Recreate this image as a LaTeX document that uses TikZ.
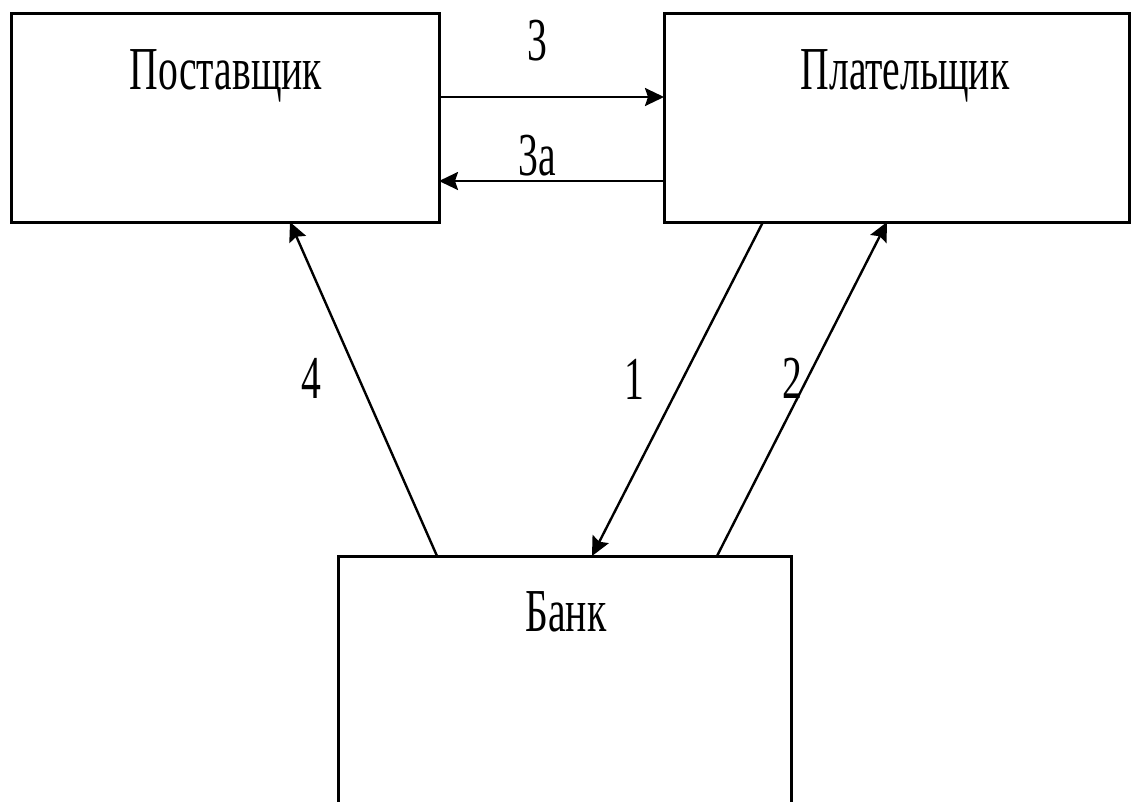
\documentclass[tikz,border=0pt]{standalone}
\usepackage{fontspec}
\setmainfont{Liberation Serif}[FakeStretch=0.65]
\usetikzlibrary{arrows.meta,calc}
\begin{document}
\begin{tikzpicture}[x=1pt,y=-1pt,
  box/.style={draw=black,line width=3pt,rectangle,anchor=north west,inner sep=0pt,outer sep=0pt},
  lbl/.style={font=\fontsize{61}{61}\selectfont,anchor=base,inner sep=0pt},
  arr/.style={line width=2.4pt,-{Stealth[length=19pt,width=18pt,inset=3pt]}}]
\useasboundingbox (0,0) rectangle (1131,801);
\clip (0,0) rectangle (1131,801);
\fill[white] (0,0) rectangle (1131,801);
\node[box,minimum width=428pt,minimum height=209pt] (post) at (11,13) {};
\node[box,minimum width=465pt,minimum height=209pt] (plat) at (664,13) {};
\node[box,minimum width=453pt,minimum height=270pt] (bank) at (338,556) {};
\node[lbl] (tpost) at (226,89) {Поставщик};
\node[lbl] (tplat) at (905,89) {Плательщик};
\node[lbl] (tbank) at (566,631) {Банк};
% horizontal arrows
\draw[arr] ($(post.north east)+(0,84)$) -- ($(plat.north west)+(0,84)$);
\draw[arr] ($(plat.north west)+(0,168)$) -- ($(post.north east)+(0,168)$);
\node[lbl] (l3) at (537,60) {3};
\node[lbl] (l3a) at (537,175) {3а};
% diagonal arrows
\draw[arr] ($(bank.north west)+(99,0)$) -- ($(post.south west)+(279,0)$);
\draw[arr] ($(plat.south west)+(99,0)$) -- ($(bank.north west)+(254,0)$);
\draw[arr] ($(bank.north west)+(379,0)$) -- ($(plat.south west)+(223,0)$);
\node[lbl] (l4) at (311,398) {4};
\node[lbl] (l1) at (634,399) {1};
\node[lbl] (l2) at (792,398) {2};
\end{tikzpicture}
\end{document}
